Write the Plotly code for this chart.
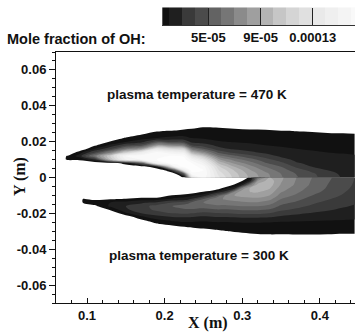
import numpy as np
import plotly.graph_objects as go

# ---------------- data: OH mole fraction, in units of 1e-5 ----------------
# upper half (plasma temperature = 470 K); each inner list is one column (fixed x),
# values from y = 0.000 upwards to y = 0.030
x_upper = [0.065, 0.075, 0.09, 0.11, 0.13, 0.15, 0.17, 0.19, 0.205, 0.215, 0.225,
           0.235, 0.25, 0.27, 0.29, 0.31, 0.33, 0.35, 0.37, 0.39, 0.41, 0.43, 0.445]
y_upper = [0.000, 0.002, 0.004, 0.006, 0.008, 0.010, 0.012, 0.014,
           0.016, 0.018, 0.020, 0.022, 0.024, 0.026, 0.028, 0.030]
oh_upper_cols = [
    [0, 0, 0, 0, 0, 0.5, 0.5, 0, 0, 0, 0, 0, 0, 0, 0, 0],
    [0, 0, 0, 0, 0, 1.15, 1.1, 0, 0, 0, 0, 0, 0, 0, 0, 0],
    [0, 0, 0, 0, 0, 1.2, 2.5, 1.5, 0, 0, 0, 0, 0, 0, 0, 0],
    [0, 0, 0, 0, 0, 3, 6.5, 4, 2, 0.8, 0, 0, 0, 0, 0, 0],
    [0, 0, 0, 0, 0, 10, 11, 7, 3.8, 2.2, 1.05, 0, 0, 0, 0, 0],
    [0, 0, 0, 0, 1.6, 15, 16, 11, 6.5, 3.8, 1.9, 1.15, 0, 0, 0, 0],
    [0, 0, 0, 0.3, 5, 16, 16.8, 14, 8, 4.5, 2.6, 1.6, 0.97, 0, 0, 0],
    [0, 0, 0, 2, 15, 17, 17, 16.5, 13, 8, 4.5, 2, 1.4, 0.9, 0, 0],
    [0, 0, 1.54, 10, 17, 17.5, 17, 15.5, 12, 7.5, 4, 2.2, 1.6, 1.05, 0, 0],
    [0, 1.05, 6, 16, 17.5, 17.5, 17, 15, 11.5, 7, 4, 2.3, 1.7, 1.1, 0, 0],
    [1.25, 5, 14, 17.5, 17.5, 17.5, 16.8, 14.5, 11, 6.5, 3.8, 2.3, 1.7, 1.2, 0.7, 0],
    [13, 16.5, 17.5, 17.5, 17, 15.5, 13, 9.5, 6.5, 4, 2.7, 2, 1.6, 1.2, 0.85, 0],
    [16.5, 17, 17, 16.5, 15, 13, 10.5, 7.5, 5, 3.5, 2.5, 1.9, 1.6, 1.3, 1.02, 0],
    [13.2, 12.6, 12, 11.2, 9.8, 8.2, 6.3, 4.7, 3.3, 2.7, 2.05, 1.8, 1.55, 1.3, 0.95, 0],
    [10.6, 10.4, 9.9, 9, 7.8, 6.5, 5.2, 3.7, 2.8, 2.3, 1.95, 1.7, 1.45, 1.15, 0.9, 0],
    [8.8, 8.6, 8.1, 7.4, 6.5, 5.4, 4.3, 3.2, 2.6, 2.2, 1.85, 1.6, 1.35, 1.1, 0.85, 0],
    [7.4, 7.3, 6.7, 6.0, 5.1, 4.4, 3.5, 2.8, 2.35, 2.0, 1.75, 1.5, 1.3, 1.1, 0.8, 0],
    [6.1, 6.0, 5.5, 5.0, 4.3, 3.4, 2.8, 2.4, 2.15, 1.9, 1.65, 1.45, 1.25, 1.05, 0, 0],
    [5.1, 4.95, 4.5, 3.8, 3.1, 2.75, 2.5, 2.25, 2.0, 1.8, 1.6, 1.4, 1.2, 0.98, 0, 0],
    [4.3, 4.2, 3.7, 3.0, 2.8, 2.55, 2.3, 2.1, 1.9, 1.7, 1.5, 1.3, 1.12, 0.95, 0, 0],
    [3.5, 3.4, 3.0, 2.8, 2.6, 2.4, 2.2, 2.0, 1.8, 1.6, 1.45, 1.3, 1.12, 0.85, 0, 0],
    [2.9, 2.8, 2.7, 2.55, 2.4, 2.25, 2.1, 1.95, 1.75, 1.6, 1.45, 1.3, 1.1, 0.8, 0, 0],
    [2.6, 2.5, 2.45, 2.35, 2.25, 2.15, 2.05, 1.9, 1.75, 1.6, 1.45, 1.3, 1.05, 0.8, 0, 0],
]

# lower half (plasma temperature = 300 K); values from y = 0.000 downwards to y = -0.034
x_lower = [0.085, 0.095, 0.11, 0.13, 0.15, 0.17, 0.19, 0.21, 0.23, 0.25, 0.265, 0.28,
           0.29, 0.30, 0.31, 0.32, 0.335, 0.35, 0.37, 0.39, 0.41, 0.43, 0.445]
y_lower = [0.000, -0.002, -0.004, -0.006, -0.008, -0.010, -0.012, -0.014, -0.016,
           -0.018, -0.020, -0.022, -0.024, -0.026, -0.028, -0.030, -0.032, -0.034]
oh_lower_cols = [
    [0, 0, 0, 0, 0, 0, 0.5, 0.5, 0, 0, 0, 0, 0, 0, 0, 0, 0, 0],
    [0, 0, 0, 0, 0, 0, 1.05, 1.05, 0, 0, 0, 0, 0, 0, 0, 0, 0, 0],
    [0, 0, 0, 0, 0, 0, 0.74, 1.6, 0.74, 0, 0, 0, 0, 0, 0, 0, 0, 0],
    [0, 0, 0, 0, 0, 0, 0.89, 2.0, 2.2, 1.1, 0, 0, 0, 0, 0, 0, 0, 0],
    [0, 0, 0, 0, 0, 0, 1.1, 2.4, 3.0, 2.8, 1.8, 0.2, 0, 0, 0, 0, 0, 0],
    [0, 0, 0, 0, 0, 0, 1.54, 2.8, 3.6, 3.6, 3.0, 1.8, 0.73, 0, 0, 0, 0, 0],
    [0, 0, 0, 0, 0, 0, 1.6, 3.2, 4.4, 4.2, 3.6, 2.6, 1.7, 0.88, 0, 0, 0, 0],
    [0, 0, 0, 0, 0, 1.05, 2.2, 4.0, 5.0, 4.7, 4.0, 3.0, 2.1, 1.5, 0.25, 0, 0, 0],
    [0, 0, 0, 0, 0, 1.6, 2.6, 4.8, 5.4, 4.9, 4.1, 3.1, 2.2, 1.7, 0.9, 0, 0, 0],
    [0, 0, 0, 0, 1.05, 2.5, 5.0, 6.0, 5.6, 4.6, 3.7, 2.8, 2.1, 1.7, 1.2, 0.4, 0, 0],
    [0, 0, 0, 0, 2.0, 4.5, 6.6, 6.4, 5.8, 4.9, 3.9, 3.0, 2.2, 1.75, 1.4, 0.7, 0, 0],
    [0, 0, 0, 1.8, 3.5, 7.4, 7.2, 6.5, 5.8, 4.9, 4.0, 3.0, 2.2, 1.75, 1.45, 0.97, 0, 0],
    [0, 0, 1.1, 2.6, 7.0, 8.0, 7.4, 6.7, 5.9, 5.0, 4.1, 3.1, 2.25, 1.8, 1.5, 1.1, 0.6, 0],
    [0, 1.05, 2.4, 7.3, 8.8, 8.3, 7.6, 6.8, 6.0, 5.1, 4.2, 3.2, 2.3, 1.8, 1.5, 1.2, 0.7, 0],
    [1.33, 2.4, 6.5, 9.1, 9.0, 8.4, 7.7, 6.9, 6.0, 5.1, 4.2, 3.2, 2.3, 1.8, 1.5, 1.25, 0.83, 0],
    [6.0, 8.0, 9.4, 9.5, 9.1, 8.5, 7.7, 6.9, 6.0, 5.1, 4.2, 3.2, 2.3, 1.8, 1.5, 1.3, 0.9, 0],
    [9.0, 9.6, 9.5, 9.1, 8.6, 8.0, 7.3, 6.5, 5.7, 4.9, 4.0, 3.1, 2.25, 1.8, 1.5, 1.3, 0.95, 0],
    [8.2, 8.1, 7.9, 7.5, 7.1, 6.6, 6.0, 5.4, 4.8, 4.2, 3.5, 2.8, 2.15, 1.75, 1.5, 1.28, 0.95, 0],
    [7.0, 6.9, 6.8, 6.5, 6.2, 5.8, 5.3, 4.8, 4.3, 3.8, 3.2, 2.6, 2.1, 1.75, 1.5, 1.28, 0.97, 0],
    [6.0, 5.9, 5.8, 5.6, 5.4, 5.0, 4.6, 4.2, 3.8, 3.4, 2.9, 2.5, 2.05, 1.72, 1.48, 1.26, 0.97, 0],
    [5.2, 5.1, 5.0, 4.9, 4.7, 4.4, 4.1, 3.7, 3.4, 3.1, 2.7, 2.35, 2.0, 1.7, 1.46, 1.24, 0.95, 0],
    [4.5, 4.45, 4.35, 4.25, 4.1, 3.9, 3.6, 3.35, 3.1, 2.85, 2.55, 2.25, 1.95, 1.68, 1.45, 1.22, 0.9, 0],
    [4.0, 3.95, 3.9, 3.8, 3.65, 3.5, 3.3, 3.1, 2.9, 2.7, 2.45, 2.2, 1.92, 1.66, 1.43, 1.2, 0.9, 0],
]

# contour levels and the grey shade of each band (band 0 = below the first level)
level_start = 1e-5
level_size = 1e-5
level_end = 1.75e-4
band_colors = ["#ffffff", "#111111", "#1f1f1f", "#3a3a3a", "#4b4b4b", "#636363",
               "#767676", "#8b8b8b", "#9f9f9f", "#b3b3b3", "#c6c6c6", "#d5d5d5",
               "#e0e0e0", "#e9e9e9", "#efefef", "#f4f4f4", "#f9f9f9", "#fdfdfd"]
legend_band_index = list(range(1, 18))
legend_tick_vals = [5e-05, 9e-05, 0.00013]
legend_tick_text = ["5E-05", "9E-05", "0.00013"]

x_tick_vals = [0.1, 0.2, 0.3, 0.4]
x_tick_text = ["0.1", "0.2", "0.3", "0.4"]
y_tick_vals = [-0.06, -0.04, -0.02, 0.0, 0.02, 0.04, 0.06]
y_tick_text = ["-0.06", "-0.04", "-0.02", "0", "0.02", "0.04", "0.06"]

# ---------------- figure ----------------
nb = len(band_colors) - 1
colorscale = [[k / nb, c] for k, c in enumerate(band_colors)]
contours = dict(start=level_start, end=level_end, size=level_size,
                coloring="fill", showlines=False)

z_up = np.array(oh_upper_cols, dtype=float).T * 1e-5
z_lo = np.array(oh_lower_cols, dtype=float).T[::-1] * 1e-5
y_lo = y_lower[::-1]

fig = go.Figure()
fig.add_trace(go.Contour(x=x_upper, y=y_upper, z=z_up, autocontour=False,
                         contours=contours, colorscale=colorscale, showscale=False,
                         line=dict(width=0, smoothing=1), hoverinfo="skip"))
fig.add_trace(go.Contour(x=x_lower, y=y_lo, z=z_lo, autocontour=False,
                         contours=contours, colorscale=colorscale, showscale=False,
                         line=dict(width=0, smoothing=1), hoverinfo="skip"))

# legend strip: one cell per band, centred between its two contour levels
cb_x = [level_start + (k - 0.5) * level_size for k in legend_band_index]
fig.add_trace(go.Heatmap(x=cb_x, y=[0], z=[legend_band_index], zmin=0, zmax=nb,
                         colorscale=colorscale, showscale=False, xaxis="x2",
                         yaxis="y2", hoverinfo="skip"))

sans = "Liberation Sans, Arial, Helvetica, sans-serif"
serif = "Liberation Serif, Times New Roman, serif"
ink = "#111111"
W, H = 355, 333

fig.update_layout(
    width=W, height=H, template="none",
    margin=dict(l=0, r=0, t=0, b=0),
    paper_bgcolor="white", plot_bgcolor="white", showlegend=False,
    xaxis=dict(domain=[56 / W, 1], range=[0.06, 0.4453], anchor="y",
               showline=True, linecolor=ink, linewidth=1, mirror=True,
               showgrid=False, zeroline=False, automargin=False,
               tickmode="array", tickvals=x_tick_vals, ticktext=x_tick_text,
               ticks="inside", ticklen=5, tickwidth=1, tickcolor=ink,
               tickfont=dict(family=sans, size=13, color=ink, weight="bold"),
               minor=dict(tickmode="linear", tick0=0, dtick=0.02, ticks="inside",
                          ticklen=3, tickwidth=1, tickcolor=ink, showgrid=False)),
    yaxis=dict(domain=[30 / H, 281 / H], range=[-0.07, 0.07], anchor="x",
               showline=True, linecolor=ink, linewidth=1,
               showgrid=False, zeroline=False, automargin=False,
               tickmode="array", tickvals=y_tick_vals, ticktext=y_tick_text,
               ticks="outside", ticklen=6, tickwidth=1, tickcolor=ink,
               tickfont=dict(family=sans, size=13, color=ink, weight="bold"),
               minor=dict(tickmode="linear", tick0=0, dtick=0.005, ticks="outside",
                          ticklen=3, tickwidth=1, tickcolor=ink, showgrid=False)),
    xaxis2=dict(domain=[162.3 / W, 1], range=[1.46e-5, 1.625e-4], anchor="y2",
                showline=True, linecolor="#333333", linewidth=1,
                showgrid=False, zeroline=False, automargin=False,
                tickmode="array", tickvals=legend_tick_vals, ticktext=legend_tick_text,
                ticks="inside", ticklen=17, tickwidth=1, tickcolor="#222222",
                tickfont=dict(family=sans, size=13, color=ink, weight="bold")),
    yaxis2=dict(domain=[308 / H, 325.7 / H], range=[-0.5, 0.5], anchor="x2",
                visible=False, automargin=False),
    annotations=[
        dict(text="Mole fraction of OH:", xref="paper", yref="paper",
             x=5 / W, y=1 - 38.5 / H, xanchor="left", yanchor="middle",
             showarrow=False, font=dict(family=sans, size=14.5, color=ink, weight="bold")),
        dict(text="plasma temperature = 470 K", xref="x", yref="y",
             x=0.242, y=0.0465, xanchor="center", yanchor="middle",
             showarrow=False, font=dict(family=sans, size=13.5, color=ink, weight="bold")),
        dict(text="plasma temperature = 300 K", xref="x", yref="y",
             x=0.244, y=-0.0434, xanchor="center", yanchor="middle",
             showarrow=False, font=dict(family=sans, size=13.5, color=ink, weight="bold")),
        dict(text="X (m)", xref="paper", yref="paper",
             x=208 / W, y=1 - 323 / H, xanchor="center", yanchor="middle",
             showarrow=False, font=dict(family=serif, size=16, color=ink, weight="bold")),
        dict(text="Y (m)", xref="paper", yref="paper", textangle=-90,
             x=20 / W, y=1 - 177 / H, xanchor="center", yanchor="middle",
             showarrow=False, font=dict(family=serif, size=16, color=ink, weight="bold")),
    ],
)

# the page body's default 8 px margin would shift the whole figure; remove it
fig.write_html("out.html", config={"displayModeBar": False, "staticPlot": True},
               post_script="document.body.style.margin='0';")
